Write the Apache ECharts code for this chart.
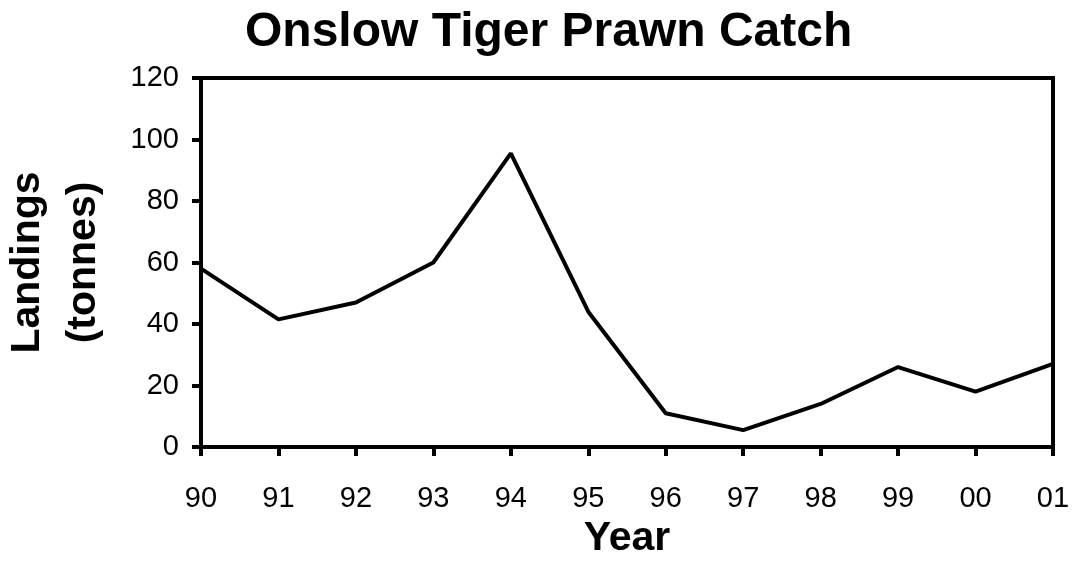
<!DOCTYPE html>
<html>
<head>
<meta charset="utf-8">
<script src="https://cdn.jsdelivr.net/npm/echarts@6/dist/echarts.min.js"></script>
<style>
  html, body { margin: 0; padding: 0; background: #fff; }
  #chart { width: 1072px; height: 561px; }
</style>
</head>
<body>
<div id="chart"></div>
<script>
// Onslow tiger prawn landings by season
const titleText = 'Onslow Tiger Prawn Catch';
const years = ['90', '91', '92', '93', '94', '95', '96', '97', '98', '99', '00', '01'];
const landings = [58, 41.5, 47, 60, 95.5, 44, 11, 5.5, 14, 26, 18, 27];
const yTicks = [0, 20, 40, 60, 80, 100, 120];

const FONT = '"Liberation Sans", Arial, Helvetica, sans-serif';

const chart = echarts.init(document.getElementById('chart'), null, { renderer: 'canvas' });

chart.setOption({
  backgroundColor: '#ffffff',
  animation: false,
  title: {
    text: titleText,
    left: 240,
    top: 4,
    textStyle: { fontFamily: FONT, fontSize: 48, fontWeight: 'bold', color: '#000' }
  },
  grid: {
    left: 201,
    right: 19,
    top: 78,
    bottom: 114,
    outerBoundsMode: 'none',
    containLabel: false,
    show: true,
    borderColor: '#000',
    borderWidth: 4,
    backgroundColor: 'transparent'
  },
  xAxis: {
    type: 'category',
    data: years,
    boundaryGap: false,
    name: 'Year',
    nameLocation: 'middle',
    nameGap: 69,
    nameTextStyle: { fontFamily: FONT, fontSize: 41, fontWeight: 'bold', color: '#000' },
    axisLine: { show: true, lineStyle: { color: '#000', width: 4 } },
    axisTick: { show: true, length: 9, lineStyle: { color: '#000', width: 4 } },
    axisLabel: { margin: 37, fontFamily: FONT, fontSize: 29, color: '#000' },
    splitLine: { show: false }
  },
  yAxis: {
    type: 'value',
    min: yTicks[0],
    max: yTicks[yTicks.length - 1],
    interval: yTicks[1] - yTicks[0],
    name: 'Landings\n(tonnes)',
    nameLocation: 'middle',
    nameRotate: 90,
    nameGap: 89,
    nameTextStyle: { fontFamily: FONT, fontSize: 41, fontWeight: 'bold', color: '#000', lineHeight: 56 },
    axisLine: { show: true, lineStyle: { color: '#000', width: 4 } },
    axisTick: { show: true, length: 9, lineStyle: { color: '#000', width: 4 } },
    axisLabel: { margin: 22, fontFamily: FONT, fontSize: 29, color: '#000' },
    splitLine: { show: false }
  },
  series: [{
    type: 'line',
    data: landings,
    showSymbol: false,
    symbol: 'none',
    lineStyle: { color: '#000', width: 4 },
    itemStyle: { color: '#000' }
  }]
});
</script>
</body>
</html>
